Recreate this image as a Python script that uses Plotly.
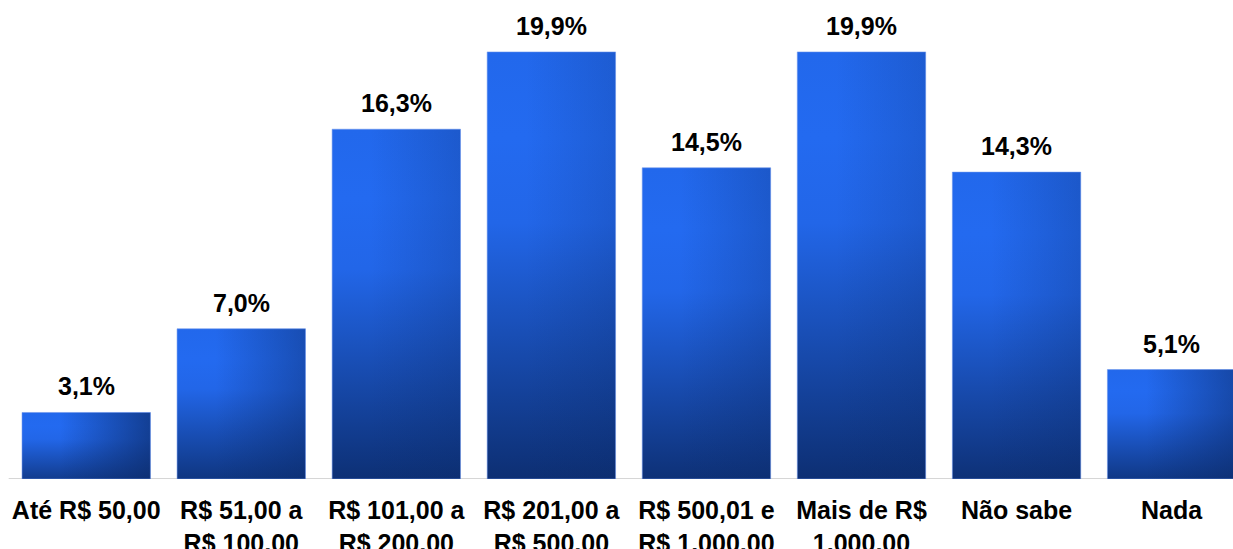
import plotly.graph_objects as go

# Spending ranges and share of respondents (%)
categories = [
    "Até R$ 50,00",
    "R$ 51,00 a<br>R$ 100,00",
    "R$ 101,00 a<br>R$ 200,00",
    "R$ 201,00 a<br>R$ 500,00",
    "R$ 500,01 e<br>R$ 1.000,00",
    "Mais de R$<br>1.000,00",
    "Não sabe",
    "Nada",
]
values = [3.1, 7.0, 16.3, 19.9, 14.5, 19.9, 14.3, 5.1]

FONT = "Liberation Sans, Arial, sans-serif"
BAR_WIDTH = 0.828
# approximate screen scale, used only to shape the diagonal shading
PX_PER_X = 155.05
PX_PER_Y = 21.46
BRIGHT = (35, 106, 240)
DARK = (11, 42, 104)


def mix(t, alpha=None):
    c = [round(b + t * (d - b)) for b, d in zip(BRIGHT, DARK)]
    if alpha is None:
        return "rgb({},{},{})".format(*c)
    return "rgba({},{},{},{:.3f})".format(*c, alpha)


def label(v):
    return f"{v:.1f}".replace(".", ",") + "%"


fig = go.Figure()

for i, v in enumerate(values):
    x0, x1 = i - BAR_WIDTH / 2, i + BAR_WIDTH / 2
    xs = [x0, x1, x1, x0, x0]
    ys = [0, 0, v, v, 0]
    w_px = BAR_WIDTH * PX_PER_X
    h_px = v * PX_PER_Y
    f = w_px / (w_px + 1.5 * h_px)  # share of the shading that runs left-to-right

    # vertical part of the gradient: bright upper part, darker toward the base
    fig.add_trace(go.Scatter(
        x=xs, y=ys, mode="lines", fill="toself",
        line=dict(width=0),
        fillgradient=dict(
            type="vertical",
            colorscale=[[0, mix(1 - 0.5 * f)], [0.6, mix(0.06)],
                        [0.8, mix(0.0)], [1, mix(0.03)]],
        ),
        hoverinfo="skip", showlegend=False,
    ))
    # horizontal part: darkens toward the right edge
    fig.add_trace(go.Scatter(
        x=xs, y=ys, mode="lines", fill="toself",
        line=dict(width=1, color="rgba(110,150,235,0.55)"),
        fillgradient=dict(
            type="horizontal",
            colorscale=[[0, mix(1.0, 0.0)], [0.3, mix(1.0, 0.0)],
                        [1, mix(1.0, min(1.0, f * 1.2))]],
        ),
        name=categories[i].replace("<br>", " "),
        hovertemplate="%{text}<extra></extra>",
        text=[label(v)] * len(xs),
        showlegend=False,
    ))

    fig.add_annotation(
        x=i, y=v, text=label(v), showarrow=False,
        xanchor="center", yanchor="bottom", yshift=10,
        font=dict(family=FONT, size=25, color="#000000", weight="bold"),
    )

# baseline under the bars
fig.add_shape(
    type="line", x0=-0.5, x1=len(values) - 0.5, y0=0, y1=0,
    xref="x", yref="y", layer="below",
    line=dict(color="#d6d6d6", width=2),
)

fig.update_layout(
    width=1233, height=549,
    margin=dict(l=0, r=0, t=0, b=70),
    paper_bgcolor="white", plot_bgcolor="white",
    template="none",
    xaxis=dict(
        range=[-0.556, 7.396],
        tickmode="array",
        tickvals=list(range(len(categories))),
        ticktext=categories,
        showgrid=False, zeroline=False, showline=False,
        ticks="", automargin=False,
        ticklabelstandoff=14,
        tickfont=dict(family=FONT, size=25, color="#000000", weight="bold"),
    ),
    yaxis=dict(
        range=[0, 22.32], visible=False,
        showgrid=False, zeroline=False, automargin=False,
    ),
)

fig.write_html("out.html")
